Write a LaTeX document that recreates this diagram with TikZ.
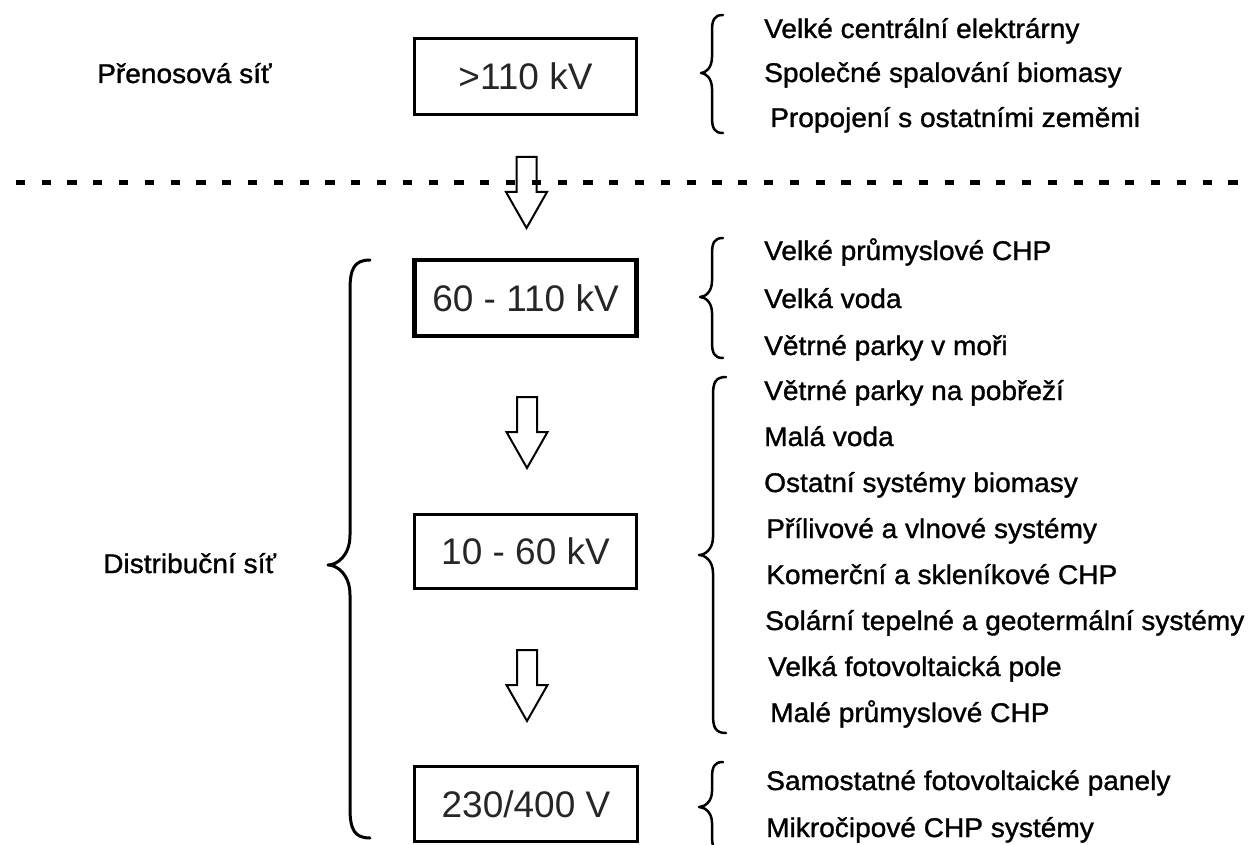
\documentclass[tikz,border=0pt]{standalone}
\usepackage{fontspec}
\setmainfont{Liberation Sans}
\newfontfamily\lblfont[FakeBold=1.2,FakeStretch=1.04]{Liberation Sans}
\begin{document}
\begin{tikzpicture}[x=1pt,y=-1pt,
  lbl/.style={anchor=base west, inner sep=0, font=\lblfont\fontsize{27}{30}\selectfont},
  volt/.style={draw, line width=3pt, inner sep=0, font=\fontsize{37}{40}\selectfont, text=black!85},
  bracestyle/.style={line width=2.5pt, line cap=round, line join=round},
  blk/.style={draw, line width=2pt, line join=miter},
  blockarrow/.pic={\draw[blk] (-10,0) -- (10,0) -- (10,35) -- (20.5,35) -- (0,71) -- (-20.5,35) -- (-10,35) -- cycle;}
]
\useasboundingbox (0,0) rectangle (1252,845);
\clip (0,0) rectangle (1252,845);

\newcommand\mybrace[8][]{%
  \draw[bracestyle,#1] (#2,#5) .. controls ({#3+0.2*(#2-#3)},{#5}) and ({#3},{#5+0.3*#8}) .. ({#3},{#5+#8})
    -- ({#3},{#6-#8}) .. controls ({#3},{#6-0.3*#8}) and ({#4+0.4*(#3-#4)},{#6}) .. ({#4},{#6})
    .. controls ({#4+0.4*(#3-#4)},{#6}) and ({#3},{#6+0.3*#8}) .. ({#3},{#6+#8})
    -- ({#3},{#7-#8}) .. controls ({#3},{#7-0.3*#8}) and ({#3+0.2*(#2-#3)},{#7}) .. (#2,#7);}

% dashed separator
\coordinate (dl) at (15.7,183);
\coordinate (dr) at (1260,183);
\draw[line width=5pt, dash pattern=on 9.3pt off 16.5pt] (dl) -- (dr);

% voltage boxes
\node[volt, minimum width=222pt, minimum height=76pt] (b1) at (525.5,76.5) {>110 kV};
\node[volt, line width=4.5pt, minimum width=222pt, minimum height=76pt] (b2) at (525.5,298) {60 - 110 kV};
\node[volt, minimum width=222pt, minimum height=74pt] (b3) at (525.5,551.5) {10 - 60 kV};
\node[volt, minimum width=223pt, minimum height=75pt] (b4) at (526,804) {230/400 V};

% block arrows
\pic (a1) at (526.5,157) {blockarrow};
\pic (a2) at (527,397) {blockarrow};
\pic (a3) at (527,650) {blockarrow};

% left labels
\node[lbl] (ln1) at (97,83) {Přenosová síť};
\node[lbl] (ln2) at (103,573) {Distribuční síť};

% braces
\mybrace{723}{712}{701}{15}{73}{133}{16}
\mybrace{723}{712}{700}{238}{297}{358}{16}
\mybrace{726}{713}{699}{377}{555}{733}{18}
\mybrace{723}{712}{699}{762}{807}{852}{16}
\mybrace[line width=3pt]{370}{350}{328}{260}{565}{838}{30}

% group 1
\node[lbl] (g1a) at (764,38) {Velké centrální elektrárny};
\node[lbl] (g1b) at (764,82) {Společné spalování biomasy};
\node[lbl] (g1c) at (770,127) {Propojení s ostatními zeměmi};
% group 2
\node[lbl] (g2a) at (764,260) {Velké průmyslové CHP};
\node[lbl] (g2b) at (764,308) {Velká voda};
\node[lbl] (g2c) at (764,355) {Větrné parky v moři};
% group 3
\node[lbl] (g3a) at (764,400) {Větrné parky na pobřeží};
\node[lbl] (g3b) at (764,446) {Malá voda};
\node[lbl] (g3c) at (764,492) {Ostatní systémy biomasy};
\node[lbl] (g3d) at (766,538) {Přílivové a vlnové systémy};
\node[lbl] (g3e) at (766,584) {Komerční a skleníkové CHP};
\node[lbl] (g3f) at (765,630) {Solární tepelné a geotermální systémy};
\node[lbl] (g3g) at (768,676) {Velká fotovoltaická pole};
\node[lbl] (g3h) at (770,722) {Malé průmyslové CHP};
% group 4
\node[lbl] (g4a) at (766,790) {Samostatné fotovoltaické panely};
\node[lbl] (g4b) at (766,837) {Mikročipové CHP systémy};
\end{tikzpicture}
\end{document}
